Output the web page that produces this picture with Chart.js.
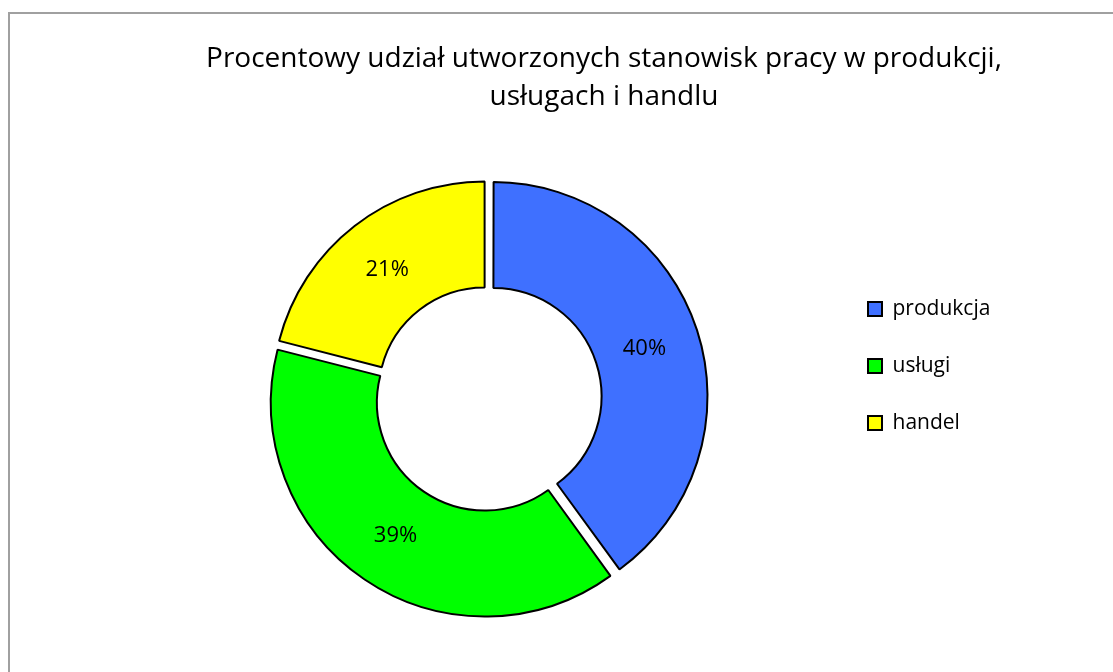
<!DOCTYPE html>
<html lang="pl">
<head>
<meta charset="utf-8">
<title>Procentowy udział utworzonych stanowisk pracy</title>
<script src="https://cdn.jsdelivr.net/npm/chart.js@4/dist/chart.umd.min.js"></script>
<style>
    html, body { margin: 0; padding: 0; background: #fff; overflow: hidden; }
    body { width: 1113px; height: 672px; position: relative; }
    #frame {
        position: absolute; left: 8px; top: 12px; width: 1300px; height: 800px;
        border-left: 2px solid #a0a0a0; border-top: 2px solid #a0a0a0;
    }
    #chart { position: absolute; left: 0; top: 0; }
</style>
</head>
<body>
<div id="frame"></div>
<canvas id="chart" width="1208" height="700"></canvas>
<script>
const titleLines = ['Procentowy udział utworzonych stanowisk pracy w produkcji,', 'usługach i handlu'];
const categories = ['produkcja', 'usługi', 'handel'];
const shares = [40, 39, 21];
const sliceColors = ['#3f70ff', '#00ff00', '#ffff00'];

const LEGEND_WIDTH = 232;

/**
 * Legend: fixed width so the ring sits left of the title centre,
 * and the items moved down level with the upper half of the ring
 */
const legendPlacement = {
    id: 'legendPlacement',
    afterInit(chart) {
        const legend = chart.legend;
        const fit = legend.fit;
        legend.fit = function () {
            fit.call(this);
            this.width = LEGEND_WIDTH;
        };
    },
    afterLayout(chart) {
        chart.legend.top += 55;
        chart.legend.bottom += 55;
    }
};

/**
 * Percentage text in the middle of every slice
 */
const sliceLabels = {
    id: 'sliceLabels',
    afterDatasetsDraw(chart) {
        const { ctx } = chart;
        const meta = chart.getDatasetMeta(0);
        ctx.save();
        ctx.font = '22px "Open Sans"';
        ctx.fillStyle = '#000';
        ctx.textAlign = 'center';
        ctx.textBaseline = 'middle';
        meta.data.forEach((arc, i) => {
            const mid = (arc.startAngle + arc.endAngle) / 2;
            const r = (arc.innerRadius + arc.outerRadius) / 2 + (arc.options.offset || 0) / 4;
            ctx.fillText(shares[i] + '%', arc.x + Math.cos(mid) * r, arc.y + Math.sin(mid) * r + 2);
        });
        ctx.restore();
    }
};

Chart.defaults.font.family = '"Open Sans", "Noto Sans", sans-serif';
Chart.defaults.color = '#000';

new Chart(document.getElementById('chart'), {
    type: 'doughnut',
    data: {
        labels: categories,
        datasets: [{
            data: shares,
            backgroundColor: sliceColors,
            borderColor: '#000',
            borderWidth: 2,
            offset: 22
        }]
    },
    options: {
        responsive: false,
        animation: false,
        cutout: '50%',
        layout: { padding: { top: 0, left: 144, right: 144, bottom: 78 } },
        plugins: {
            title: {
                display: true,
                text: titleLines,
                font: { size: 28, weight: 'normal', lineHeight: '38px' },
                padding: { top: 40, bottom: 58 }
            },
            legend: {
                position: 'right',
                labels: { boxWidth: 14, boxHeight: 14, padding: 36, font: { size: 21 } }
            },
            tooltip: { enabled: false }
        }
    },
    plugins: [legendPlacement, sliceLabels]
});
</script>
</body>
</html>
